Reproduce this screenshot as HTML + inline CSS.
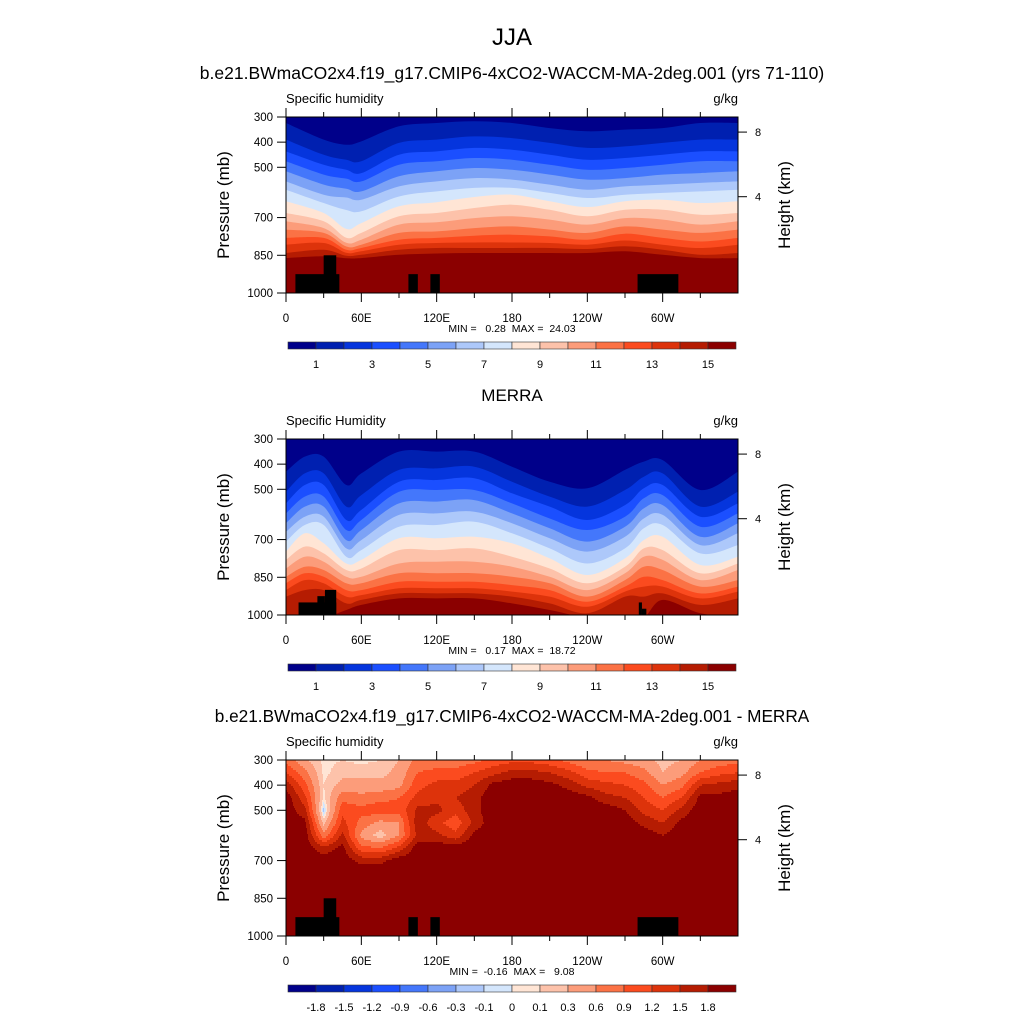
<!DOCTYPE html>
<html><head><meta charset="utf-8"><style>
body{margin:0;background:#fff}
svg{display:block}
text{font-family:"Liberation Sans",Arial,sans-serif;fill:#000;white-space:pre}
</style></head><body>
<svg id="fig" width="1024" height="1024" viewBox="0 0 1024 1024" xmlns="http://www.w3.org/2000/svg">
<rect width="1024" height="1024" fill="#fff"/>
<text x="512" y="45" font-size="24" text-anchor="middle">JJA</text>
<text x="512" y="79" font-size="17.5" text-anchor="middle">b.e21.BWmaCO2x4.f19_g17.CMIP6-4xCO2-WACCM-MA-2deg.001 (yrs 71-110)</text>
<text x="512" y="401" font-size="17" text-anchor="middle">MERRA</text>
<text x="512" y="722" font-size="17.2" text-anchor="middle">b.e21.BWmaCO2x4.f19_g17.CMIP6-4xCO2-WACCM-MA-2deg.001 - MERRA</text>
<g id="layers"></g>
</svg>
<script>
// ---------- data ----------
const colors16 = ["#00008a","#0020b0","#0535dd","#1b4fff","#4477fb","#7ca2f6","#adc8fa","#d4e6fc","#ffe5d5","#fdc2aa","#fc9c7a","#fb7245","#fb4b1f","#dd330b","#b51c02","#8b0000"];
const levelLabels1 = ["1","","3","","5","","7","","9","","11","","13","","15"];
const levelLabels3 = ["-1.8","-1.5","-1.2","-0.9","-0.6","-0.3","-0.1","0","0.1","0.3","0.6","0.9","1.2","1.5","1.8"];
const diffLevels = [-1.8,-1.5,-1.2,-0.9,-0.6,-0.3,-0.1,0,0.1,0.3,0.6,0.9,1.2,1.5,1.8];
const pressureTicks = [300,400,500,700,850,1000];
const lonTickValues = [0,60,120,180,240,300];
const lonTickLabels = ["0","60E","120E","180","120W","60W"];
const heightTicks = [{p:360,label:"8"},{p:617,label:"4"}];

// panel 1: pressure (mb) of contour boundaries 1..15 at each longitude
const lons1 = [0,30,48,60,90,120,150,180,210,240,270,300,330,360];
const bounds1 = [
 [324,390,437,476,516,556,589,635,682,715,748,781,808,841,861],
 [390,450,490,529,569,609,642,682,715,742,761,781,801,828,854],
 [410,470,510,545,585,620,670,745,780,800,815,828,840,852,862],
 [397,476,523,556,596,629,675,722,761,788,808,821,834,848,861],
 [337,403,450,490,536,576,616,655,695,728,761,788,808,828,848],
 [324,390,437,476,516,556,596,639,682,719,755,781,801,821,843],
 [317,377,423,463,503,543,582,618,662,702,742,772,799,821,841],
 [324,384,430,470,510,549,582,609,649,695,735,768,799,821,841],
 [344,403,450,490,529,569,602,635,669,708,748,775,801,821,841],
 [357,423,470,510,549,589,622,658,695,728,761,788,808,825,841],
 [350,417,463,503,543,576,609,635,669,702,735,764,791,814,834],
 [344,403,450,490,529,569,602,629,669,708,748,781,808,828,848],
 [324,390,437,476,523,562,596,642,689,728,761,795,821,848,861],
 [324,390,437,476,516,556,589,635,682,715,748,781,808,841,861]
];
const mask1 = [[7.5,42.5,925],[30,40,850],[97.5,105,925],[115,122.5,925],[280,312.5,925]];

// panel 2 (MERRA)
const lons2 = [0,15,30,48,60,90,120,150,180,210,240,270,285,300,330,360];
const bounds2 = [
 [430,510,556,596,635,669,708,748,781,815,848,874,901,927,1010],
 [370,437,483,529,569,609,642,675,728,768,808,834,861,901,1010],
 [370,437,483,529,569,609,642,715,755,788,821,848,874,901,1010],
 [483,569,622,662,702,735,768,795,821,848,874,901,927,954,980],
 [437,523,582,622,662,702,742,781,815,848,874,901,921,940,960],
 [350,423,470,510,556,602,649,695,742,795,834,868,894,914,934],
 [350,417,463,503,549,596,642,695,742,788,834,868,894,914,934],
 [350,410,456,503,543,589,629,689,735,788,834,868,894,914,934],
 [410,470,516,556,596,635,675,715,768,808,848,881,907,927,954],
 [470,529,569,616,655,695,735,775,815,848,874,901,927,954,980],
 [496,569,622,662,708,748,795,841,874,901,927,947,967,993,1100],
 [423,503,563,609,649,689,735,775,808,834,861,887,907,927,1100],
 [390,450,496,536,576,616,655,702,735,768,808,848,887,927,1100],
 [384,437,483,523,563,602,642,689,742,781,821,861,887,914,940],
 [503,569,609,649,689,722,755,801,834,861,887,914,934,960,993],
 [430,510,556,596,635,675,722,768,795,821,861,887,907,934,1007]
];
const mask2 = [[10,40,950],[25,31,925],[31,40,900],[281,283.5,950],[283.5,287,975]];

// panel 3 (difference) grid: rows = pressures, cols = longitudes (every 15 deg)
const lons3 = [0,15,30,45,60,75,90,105,120,135,150,165,180,195,210,225,240,255,270,285,300,315,330,345,360];
const pres3 = [300,350,400,450,500,550,600,650,700,750];
const diff3 = [
 [0.8,0.35,0.05,0.1,0.05,0.1,0.3,0.7,0.7,0.7,0.8,1.0,1.1,1.1,1.0,0.8,0.6,0.6,0.5,0.4,0.2,0.3,0.6,0.7,0.8],
 [1.2,0.7,0.05,0.2,0.2,0.2,0.4,0.9,1.0,1.0,1.2,1.4,1.6,1.6,1.5,1.3,1.0,0.9,0.9,0.7,0.3,0.5,0.9,1.1,1.2],
 [1.7,1.0,0.1,0.4,0.4,0.4,0.5,1.1,1.3,1.3,1.5,1.9,2,2,1.9,1.7,1.4,1.3,1.2,1.0,0.6,0.8,1.5,1.6,1.7],
 [2,1.3,0.05,0.8,0.7,0.8,0.9,1.3,1.4,1.5,1.7,2,2,2,2,2,1.9,1.6,1.5,1.2,0.9,1.2,1.9,1.9,2],
 [2,1.6,-0.15,1.1,1.0,1.1,1.0,1.6,1.6,1.3,1.7,2,2,2,2,2,2,2,1.8,1.4,1.2,1.6,2,2,2],
 [2,1.9,0.2,1.3,0.8,0.5,0.6,1.7,1.3,1.0,1.6,2,2,2,2,2,2,2,2,1.7,1.5,1.9,2,2,2],
 [2,2,0.7,1.6,0.5,0.15,0.6,1.6,1.6,1.3,1.9,2,2,2,2,2,2,2,2,2,1.8,2,2,2,2],
 [2,2,1.6,1.9,1.0,0.9,1.3,2,2,2,2,2,2,2,2,2,2,2,2,2,2,2,2,2,2],
 [2,2,2,2,1.7,1.7,2,2,2,2,2,2,2,2,2,2,2,2,2,2,2,2,2,2,2],
 [2,2,2,2,2,2,2,2,2,2,2,2,2,2,2,2,2,2,2,2,2,2,2,2,2]
];
const mask3 = [[7.5,42.5,925],[30,40,850],[97.5,105,925],[115,122.5,925],[280,312.5,925]];

// ---------- layout ----------
const NS="http://www.w3.org/2000/svg";
const X0=286, W=452, H=176;
const xOf = lon => X0 + lon/360*W;
const yOf = (T,p) => T + (p-300)/700*H;
const layers=document.getElementById('layers');
function mk(tag, attrs, parent){const e=document.createElementNS(NS,tag);for(const k in attrs)e.setAttribute(k,attrs[k]);(parent||layers).appendChild(e);return e;}

function interp(xs, ys, x){
  for(let i=0;i<xs.length-1;i++){ if(x<=xs[i+1]){const t=(x-xs[i])/(xs[i+1]-xs[i]);return ys[i]+(ys[i+1]-ys[i])*t;} }
  return ys[ys.length-1];
}
function smoothPath(pts){
  let d="M"+pts[0][0].toFixed(1)+","+pts[0][1].toFixed(1);
  for(let i=0;i<pts.length-1;i++){
    const p0=pts[Math.max(0,i-1)],p1=pts[i],p2=pts[i+1],p3=pts[Math.min(pts.length-1,i+2)];
    const c1=[p1[0]+(p2[0]-p0[0])/6,p1[1]+(p2[1]-p0[1])/6];
    const c2=[p2[0]-(p3[0]-p1[0])/6,p2[1]-(p3[1]-p1[1])/6];
    d+=" C"+c1[0].toFixed(1)+","+c1[1].toFixed(1)+" "+c2[0].toFixed(1)+","+c2[1].toFixed(1)+" "+p2[0].toFixed(1)+","+p2[1].toFixed(1);
  }
  return d;
}

function drawBandPanel(g,T,lons,bounds,clipId){
  const bg=mk('rect',{x:X0,y:T,width:W,height:H,fill:colors16[0]},g);
  
  
  for(let k=0;k<15;k++){
    const pts=lons.map((lon,i)=>[xOf(lon), yOf(T,Math.min(bounds[i][k],1010))]);
    let d=smoothPath(pts)+" L"+(X0+W)+","+(T+H+2)+" L"+X0+","+(T+H+2)+" Z";
    const p=mk('path',{d:d,fill:colors16[k+1],'clip-path':'url(#'+clipId+')'},g);
    
    
  }
}

function drawGridPanel(g,T){
  const paths={};
  const step=2;
  for(let y=0;y<H;y+=step){
    const p=300+(y+step/2)/H*700;
    let prev=-1,start=0;
    for(let x=0;x<=W;x++){
      let ci=-1;
      if(x<W){
        const lon=(x+0.5)/W*360;
        let v;
        if(p>=pres3[pres3.length-1]) v=interp(lons3,diff3[pres3.length-1],lon);
        else{
          let j=0;while(j<pres3.length-2&&p>pres3[j+1])j++;
          const t=(p-pres3[j])/(pres3[j+1]-pres3[j]);
          v=interp(lons3,diff3[j],lon)*(1-t)+interp(lons3,diff3[j+1],lon)*t;
        }
        ci=0;while(ci<15&&v>diffLevels[ci])ci++;
      }
      if(ci!==prev){
        if(prev>=0){(paths[prev]=paths[prev]||[]).push("M"+(X0+start)+","+(T+y)+"h"+(x-start)+"v"+step+"h"+(-(x-start))+"z");}
        prev=ci;start=x;
      }
    }
  }
  for(const c in paths){
    const e=mk('path',{d:paths[c].join(""),fill:colors16[c],'shape-rendering':'crispEdges'},g);
    
    
  }
}

function drawMask(g,T,mask){
  mask.forEach((m,i)=>{
    const r=mk('rect',{x:xOf(m[0]),y:yOf(T,m[2]),width:xOf(m[1])-xOf(m[0]),height:yOf(T,1000)-yOf(T,m[2]),fill:'#000'},g);
    
    
  });
}

function drawAxes(g,T,leftTitle,minmax){
  mk('rect',{x:X0,y:T,width:W,height:H,fill:'none',stroke:'#000','stroke-width':1},g);
  pressureTicks.forEach(p=>{
    const y=yOf(T,p);
    mk('line',{x1:X0-9,y1:y,x2:X0,y2:y,stroke:'#000'},g);
    const t=mk('text',{x:X0-13,y:y+4,'font-size':11.5,'text-anchor':'end'},g);t.textContent=p;
    
    
  });
  for(let lon=0;lon<360;lon+=30){
    const x=xOf(lon), major=lon%60===0, L=major?9:5;
    mk('line',{x1:x,y1:T,x2:x,y2:T-L,stroke:'#000'},g);
    mk('line',{x1:x,y1:T+H,x2:x,y2:T+H+L,stroke:'#000'},g);
  }
  lonTickValues.forEach((lon,i)=>{
    const t=mk('text',{x:xOf(lon),y:T+H+29,'font-size':11.5,'text-anchor':'middle'},g);t.textContent=lonTickLabels[i];
    
    
  });
  heightTicks.forEach(h=>{
    const y=yOf(T,h.p);
    mk('line',{x1:X0+W,y1:y,x2:X0+W+9,y2:y,stroke:'#000'},g);
    const t=mk('text',{x:X0+W+17,y:y+4,'font-size':11},g);t.textContent=h.label;
    
    
  });
  const yt=mk('text',{x:0,y:0,'font-size':17,'text-anchor':'middle',transform:'translate(229,'+(T+H/2)+') rotate(-90)'},g);yt.textContent="Pressure (mb)";
  
  
  const ht=mk('text',{x:0,y:0,'font-size':17,'text-anchor':'middle',transform:'translate(790,'+(T+H/2)+') rotate(-90)'},g);ht.textContent="Height (km)";
  
  
  const lt=mk('text',{x:X0,y:T-14,'font-size':13},g);lt.textContent=leftTitle;
  
  
  const ut=mk('text',{x:X0+W,y:T-14,'font-size':13,'text-anchor':'end'},g);ut.textContent="g/kg";
  
  
  const mm=mk('text',{x:512,y:T+H+39,'font-size':10.5,'text-anchor':'middle'},g);mm.textContent=minmax;
  
  
}

function drawColorbar(g,T,labels){
  const y=T+H+49, bx=288, bw=448/16;
  for(let i=0;i<16;i++){
    const r=mk('rect',{x:bx+i*bw,y:y,width:bw,height:7,fill:colors16[i],stroke:'#333','stroke-width':0.6},g);
    
    
  }
  labels.forEach((l,i)=>{
    if(!l)return;
    const t=mk('text',{x:bx+(i+1)*bw,y:y+26,'font-size':11,'text-anchor':'middle'},g);t.textContent=l;
    
    
  });
}

const defs=mk('defs',{});
[[117,'c1'],[439,'c2'],[760,'c3']].forEach(([T,id])=>{const cp=mk('clipPath',{id:id},defs);mk('rect',{x:X0,y:T,width:W,height:H},cp);});

const g1=mk('g',{});


drawBandPanel(g1,117,lons1,bounds1,'c1');drawMask(g1,117,mask1);
drawAxes(g1,117,"Specific humidity","MIN =   0.28  MAX =  24.03");drawColorbar(g1,117,levelLabels1);

const g2=mk('g',{});


drawBandPanel(g2,439,lons2,bounds2,'c2');drawMask(g2,439,mask2);
drawAxes(g2,439,"Specific Humidity","MIN =   0.17  MAX =  18.72");drawColorbar(g2,439,levelLabels1);

const g3=mk('g',{});


drawGridPanel(g3,760);drawMask(g3,760,mask3);
drawAxes(g3,760,"Specific humidity","MIN =  -0.16  MAX =   9.08");drawColorbar(g3,760,levelLabels3);
</script>
</body></html>
